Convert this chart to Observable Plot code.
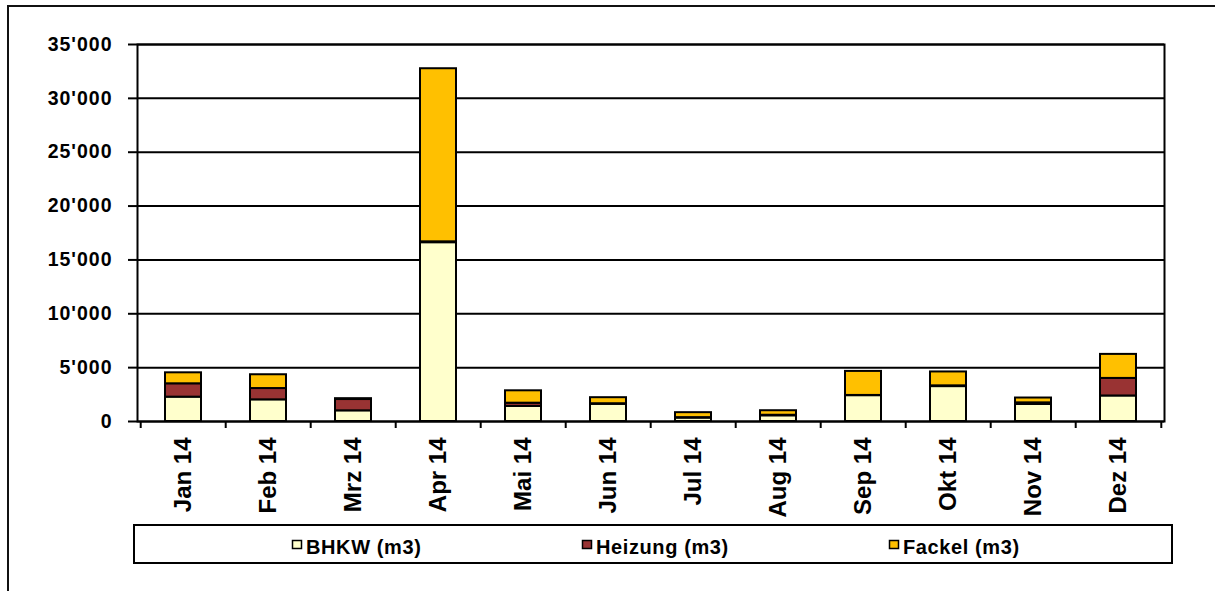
<!DOCTYPE html>
<html>
<head>
<meta charset="utf-8">
<script src="https://cdn.jsdelivr.net/npm/d3@7"></script>
<script src="https://cdn.jsdelivr.net/npm/@observablehq/plot@0.6"></script>
<style>
  html, body { margin: 0; padding: 0; background: #fff; overflow: hidden; width: 1215px; height: 591px; }
  #frame { position: absolute; left: 7px; top: 5px; width: 1400px; height: 800px;
           border-left: 2px solid #111; border-top: 2px solid #111; }
  #chart { position: absolute; left: 0; top: 0; }
  #legend { position: absolute; left: 0; top: 0; }
  #chart g[aria-label="y-axis tick label"] text { letter-spacing: 1px; }
  #legend text { font: bold 20px "Liberation Sans", Arial, sans-serif; letter-spacing: 0.6px; }
</style>
</head>
<body>
<div id="frame"></div>
<div id="chart"></div>
<svg id="legend" width="1215" height="591"></svg>
<script>
// Monthly gas usage by consumer, 2014
const months = ["Jan 14", "Feb 14", "Mrz 14", "Apr 14", "Mai 14", "Jun 14",
                "Jul 14", "Aug 14", "Sep 14", "Okt 14", "Nov 14", "Dez 14"];
const bhkw    = [2260, 2010,  990, 16600, 1400, 1600, 320, 530, 2400, 3240, 1580, 2370];
const heizung = [1240, 1050, 1050,    80,  300,   50,  40,  50,   20,   70,  150, 1630];
const fackel  = [1020, 1280,   80, 16070, 1150,  560, 460, 420, 2230, 1290,  450, 2230];
const seriesNames  = ["BHKW (m3)", "Heizung (m3)", "Fackel (m3)"];
const seriesColors = ["#FFFFCC", "#993333", "#FFC000"];
const yTicks = [0, 5000, 10000, 15000, 20000, 25000, 30000, 35000];

const values = [bhkw, heizung, fackel];
const data = months.flatMap((m, i) =>
  seriesNames.map((s, k) => ({month: m, series: s, value: values[k][i]})));

const W = 1215, H = 520;
const mL = 137, mR = 51, mT = 44, mB = 99;
const step = (W - mL - mR) / months.length;
const fmt = d => d3.format(",")(d).replace(/,/g, "'");
const font = "'Liberation Sans', Arial, sans-serif";

const chart = Plot.plot({
  width: W, height: H,
  marginLeft: mL, marginRight: mR, marginTop: mT, marginBottom: mB,
  style: {fontFamily: font, background: "transparent", color: "#000", overflow: "visible"},
  x: {domain: months, paddingInner: 0.58, paddingOuter: 0.29, axis: null},
  y: {domain: [0, 35000], axis: null},
  color: {domain: seriesNames, range: seriesColors},
  marks: [
    Plot.gridY(yTicks, {stroke: "#000", strokeOpacity: 1, strokeWidth: 2}),
    Plot.barY(data, Plot.stackY({
      x: "month", y: "value", fill: "series", order: seriesNames,
      stroke: "#000", strokeWidth: 2
    })),
    Plot.frame({stroke: "#000", strokeWidth: 2}),
    Plot.axisY(yTicks, {
      tickFormat: fmt, tickSize: 9, tickPadding: 16, strokeWidth: 2,
      fontSize: 19.5, fontWeight: "bold", label: null
    }),
    // ticks between categories
    Plot.axisX(months, {tickSize: 7, dx: -step / 2, strokeWidth: 2, tickFormat: () => "", label: null}),
    Plot.axisX([months[months.length - 1]], {tickSize: 7, dx: step / 2, strokeWidth: 2, tickFormat: () => "", label: null}),
    Plot.text(months, {
      x: d => d, frameAnchor: "bottom", rotate: -90,
      textAnchor: "end", lineAnchor: "middle", dy: 16,
      fontSize: 24, fontWeight: "bold", fill: "#000"
    })
  ]
});
document.getElementById("chart").append(chart);

// Legend box below the chart
const legend = d3.select("#legend");
legend.append("rect")
  .attr("x", 134).attr("y", 525).attr("width", 1038).attr("height", 38)
  .attr("fill", "#fff").attr("stroke", "#000").attr("stroke-width", 2);
const legendX = [292, 582, 889];
seriesNames.forEach((s, k) => {
  legend.append("rect")
    .attr("x", legendX[k] + 0.5).attr("y", 540.5).attr("width", 9).attr("height", 8)
    .attr("fill", seriesColors[k]).attr("stroke", "#000").attr("stroke-width", 1.5);
  legend.append("text")
    .attr("x", legendX[k] + 14).attr("y", 554)
    .attr("fill", "#000")
    .text(s);
});
</script>
</body>
</html>
